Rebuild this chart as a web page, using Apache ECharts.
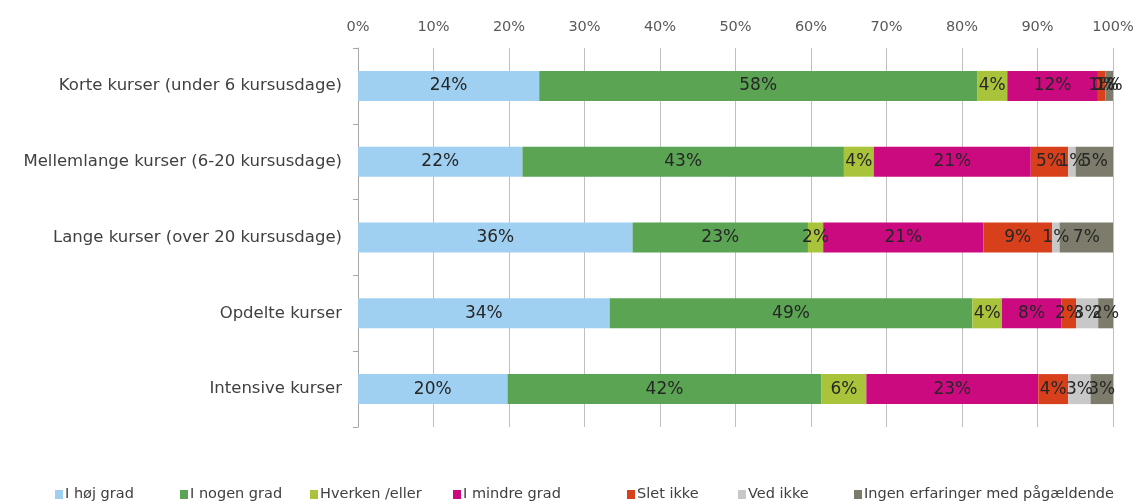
<!DOCTYPE html>
<html>
<head>
<meta charset="utf-8">
<script src="https://cdn.jsdelivr.net/npm/echarts@6/dist/echarts.min.js"></script>
<style>
  html, body { margin: 0; padding: 0; background: #ffffff; }
  #chart { width: 1139px; height: 504px; }
</style>
</head>
<body>
<div id="chart"></div>
<script>
// Course types (rows, top to bottom)
const categories = [
  'Korte kurser (under 6 kursusdage)',
  'Mellemlange kurser (6-20 kursusdage)',
  'Lange kurser (over 20 kursusdage)',
  'Opdelte kurser',
  'Intensive kurser'
];

// Answer groups (stack order, left to right)
const seriesNames = [
  'I høj grad',
  'I nogen grad',
  'Hverken /eller',
  'I mindre grad',
  'Slet ikke',
  'Ved ikke',
  'Ingen erfaringer med pågældende'
];

// Share of answers in percent, one array per answer group, one value per course type
const iHojGrad       = [24, 22, 36, 34, 20];
const iNogenGrad     = [58, 43, 23, 49, 42];
const hverkenEller   = [4, 4, 2, 4, 6];
const iMindreGrad    = [12, 21, 21, 8, 23];
const sletIkke       = [1, 5, 9, 2, 4];
const vedIkke        = [0, 1, 1, 3, 3];
const ingenErfaring  = [1, 5, 7, 2, 3];

// Axis tick values
const xTicks = [0, 10, 20, 30, 40, 50, 60, 70, 80, 90, 100];

const seriesValues = [iHojGrad, iNogenGrad, hverkenEller, iMindreGrad, sletIkke, vedIkke, ingenErfaring];
const colors = ['#9fd0f1', '#5aa453', '#a9c33b', '#cc0a80', '#d8401c', '#c8c8c8', '#7d7c6c'];

// Each row is drawn as a 100% bar: values are scaled by the row total
const rowTotals = categories.map((_, i) => seriesValues.reduce((s, arr) => s + arr[i], 0));

const fontFamily = '"DejaVu Sans", Verdana, sans-serif';

const series = seriesNames.map((name, k) => ({
  name: name,
  type: 'bar',
  stack: 'total',
  barWidth: 30,
  itemStyle: { color: colors[k] },
  label: {
    show: true,
    position: 'inside',
    color: '#262626',
    fontFamily: fontFamily,
    fontSize: 17,
    formatter: p => seriesValues[k][p.dataIndex] + '%'
  },
  data: seriesValues[k].map((v, i) => v / rowTotals[i] * 100)
}));

// One legend block per answer group, laid out along the bottom row
const legendLeft = [55, 180, 310, 453, 627, 738, 854];
const legends = seriesNames.map((name, k) => ({
  top: 487,
  left: legendLeft[k],
  icon: 'rect',
  itemWidth: 8,
  itemHeight: 9,
  padding: 0,
  textStyle: { color: '#404040', fontFamily: fontFamily, fontSize: 14.5, padding: [0, 0, 0, -3] },
  data: [name]
}));

const chart = echarts.init(document.getElementById('chart'), null, { renderer: 'canvas' });
chart.setOption({
  animation: false,
  backgroundColor: '#ffffff',
  color: colors,
  grid: { left: 358, right: 26, top: 48, bottom: 77, containLabel: false },
  xAxis: {
    type: 'value',
    position: 'top',
    min: xTicks[0],
    max: xTicks[xTicks.length - 1],
    interval: xTicks[1] - xTicks[0],
    axisLine: { show: false },
    axisTick: { show: false },
    axisLabel: {
      formatter: '{value}%',
      color: '#595959',
      fontFamily: fontFamily,
      fontSize: 14.5,
      margin: 13
    },
    splitLine: { show: true, lineStyle: { color: '#bfbfbf', width: 1 } }
  },
  yAxis: {
    type: 'category',
    inverse: true,
    data: categories,
    axisLine: { show: true, lineStyle: { color: '#a6a6a6', width: 1 } },
    axisTick: { show: true, length: 5, lineStyle: { color: '#a6a6a6' } },
    axisLabel: {
      color: '#404040',
      fontFamily: fontFamily,
      fontSize: 16.5,
      margin: 16
    }
  },
  legend: legends,
  series: series
});
</script>
</body>
</html>
